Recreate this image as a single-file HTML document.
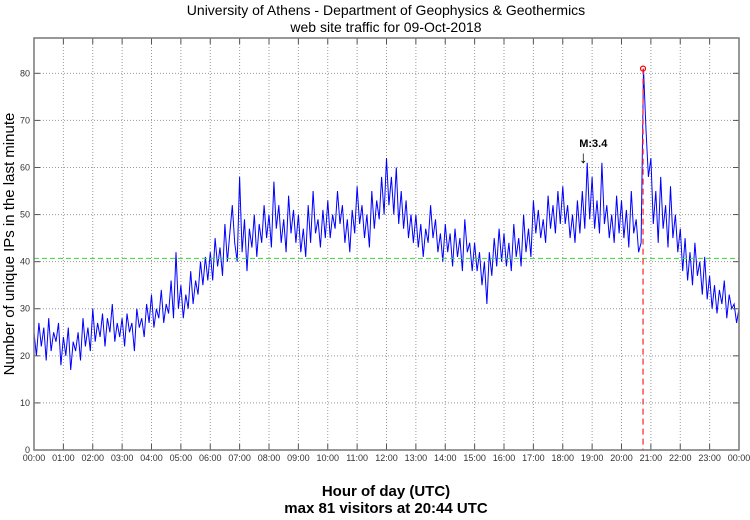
<!DOCTYPE html>
<html><head><meta charset="utf-8"><style>
body{margin:0;background:#fff;}
text{font-family:"Liberation Sans",sans-serif;}
</style></head><body>
<svg id="chart" width="750" height="515" xmlns="http://www.w3.org/2000/svg">
<text x="386" y="15" font-size="14" text-anchor="middle">University of Athens - Department of Geophysics &amp; Geothermics</text>
<text x="386" y="32" font-size="14" text-anchor="middle">web site traffic for 09-Oct-2018</text>
<text transform="translate(14,244) rotate(-90)" font-size="15" text-anchor="middle">Number of unique IPs in the last minute</text>
<text x="386" y="496" font-size="15" font-weight="bold" text-anchor="middle">Hour of day (UTC)</text>
<text x="386" y="513" font-size="15" font-weight="bold" text-anchor="middle">max 81 visitors at 20:44 UTC</text>
<g id="grid"></g><g id="series"></g><g id="axes"></g>
</svg>
<script>
const yTicks=[0,10,20,30,40,50,60,70,80];
const xTickLabels=["00:00","01:00","02:00","03:00","04:00","05:00","06:00","07:00","08:00","09:00","10:00","11:00","12:00","13:00","14:00","15:00","16:00","17:00","18:00","19:00","20:00","21:00","22:00","23:00","00:00"];
const visitors=[
25,20,27,22,26,19,28,21,25,23,27,18,
24,20,26,17,23,21,25,19,28,22,26,21,
30,23,27,24,29,22,28,25,31,23,27,24,
28,22,29,25,27,21,30,26,28,24,31,27,
33,26,30,28,34,27,31,29,36,28,42,30,
35,28,33,30,38,31,36,33,40,35,41,36,
42,36,45,39,43,37,48,40,46,52,44,40,
58,42,49,38,47,43,50,41,48,44,52,45,
50,43,57,47,52,44,49,42,54,46,51,44,
50,42,47,41,52,44,55,46,49,43,51,45,
53,45,50,47,55,48,52,44,49,42,51,46,
56,48,52,45,50,43,55,47,53,49,58,50,
62,52,58,50,60,48,55,47,53,45,50,44,
50,43,48,41,47,44,52,45,49,42,46,40,
48,42,46,39,47,41,45,38,49,42,44,38,
44,38,42,35,40,31,42,37,45,39,47,40,
46,39,44,38,48,41,45,39,50,42,47,41,
53,46,51,45,49,44,54,47,52,46,55,48,
56,48,52,45,50,44,53,46,55,47,61,49,
58,47,53,46,61,48,52,45,50,44,54,46,
53,45,51,43,55,46,49,42,44,81,68,58,
62,48,55,44,58,47,52,43,56,45,50,42,
47,38,45,36,42,35,44,37,40,33,41,32,
37,30,35,29,34,31,36,28,33,30,31,27,
30];
const stepMinutes=[5];
const meanValue=[40.7];
const maxPoint=[20*60+44,81];
const quake=[18*60+50,"M:3.4"];

const L=34,R=739,T=38,B=450,ymax=87.5;
const X=m=>L+(R-L)*m/1440, Y=v=>B-(B-T)*v/ymax;
const NS="http://www.w3.org/2000/svg";
function mk(p,t,a){const e=document.createElementNS(NS,t);for(const k in a)e.setAttribute(k,a[k]);p.appendChild(e);return e;}
const grid=document.getElementById('grid'),axes=document.getElementById('axes'),ser=document.getElementById('series');
yTicks.forEach(v=>{
 let g=mk(grid,'line',{x1:L,x2:R,y1:Y(v),y2:Y(v),stroke:'#999','stroke-dasharray':'1,2','stroke-width':1});
 
 
 let t=mk(axes,'text',{x:L-4,y:Y(v)+3,'font-size':9,'text-anchor':'end',fill:'#333'});t.textContent=v;
 
 
 mk(axes,'line',{x1:L,x2:L+6,y1:Y(v),y2:Y(v),stroke:'#555'});
 mk(axes,'line',{x1:R,x2:R-6,y1:Y(v),y2:Y(v),stroke:'#555'});
});
xTickLabels.forEach((s,i)=>{
 const x=X(i*60);
 if(i>0&&i<24){let g=mk(grid,'line',{x1:x,x2:x,y1:T,y2:B,stroke:'#999','stroke-dasharray':'1,2'});
 
 }
 let t=mk(axes,'text',{x:x,y:B+11,'font-size':9,'text-anchor':'middle',fill:'#333'});t.textContent=s;
 
 
 mk(axes,'line',{x1:x,x2:x,y1:B,y2:B-6,stroke:'#555'});
 mk(axes,'line',{x1:x,x2:x,y1:T,y2:T+6,stroke:'#555'});
});
let fr=mk(axes,'rect',{x:L,y:T,width:R-L,height:B-T,fill:'none',stroke:'#777','stroke-width':1.5});


let pts=visitors.map((v,i)=>X(i*stepMinutes[0]).toFixed(1)+','+Y(v).toFixed(1)).join(' ');
let pl=mk(ser,'polyline',{points:pts,fill:'none',stroke:'#0000ff','stroke-width':1});


let ml=mk(ser,'line',{x1:L,x2:R,y1:Y(meanValue[0]),y2:Y(meanValue[0]),stroke:'#33dd33','stroke-dasharray':'5,3'});


let vl=mk(ser,'line',{x1:X(maxPoint[0]),x2:X(maxPoint[0]),y1:Y(maxPoint[1]),y2:B,stroke:'#ff3333','stroke-dasharray':'6,4','stroke-width':1.3});


let mc=mk(ser,'circle',{cx:X(maxPoint[0]),cy:Y(maxPoint[1]),r:2.5,fill:'none',stroke:'#ff0000','stroke-width':1.2});


let qa=mk(ser,'text',{x:X(quake[0])-4,y:163,'font-size':17,'text-anchor':'middle'});qa.textContent='↓';


let qt=mk(ser,'text',{x:X(quake[0])-8,y:147,'font-size':11,'font-weight':'bold'});qt.textContent=quake[1];


</script>
</body></html>
